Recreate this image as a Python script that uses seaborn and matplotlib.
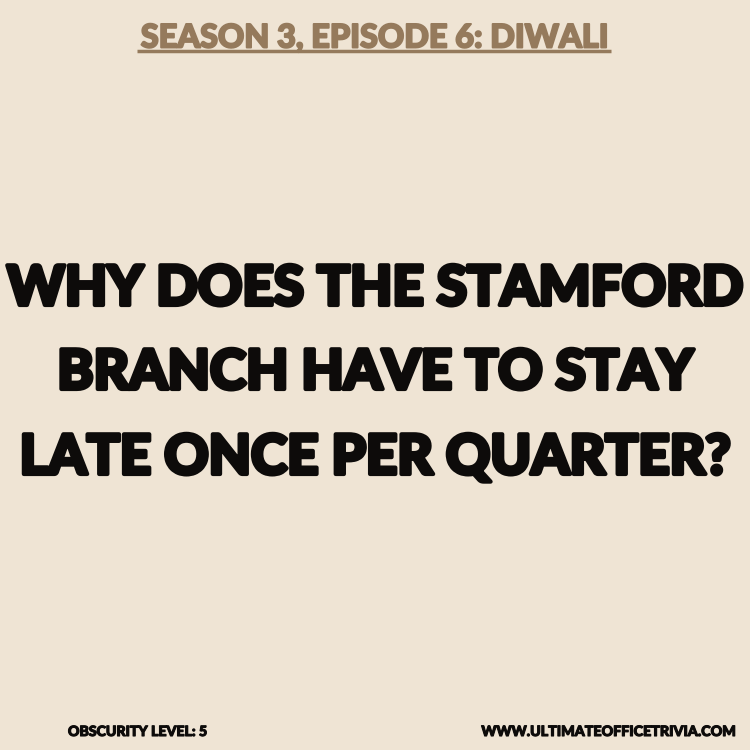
import matplotlib
matplotlib.use("Agg")
import matplotlib.pyplot as plt
import matplotlib.patheffects as pe
import seaborn as sns

title_text = "SEASON 3, EPISODE 6: DIWALI"
question_lines = ["WHY DOES THE STAMFORD", "BRANCH HAVE TO STAY", "LATE ONCE PER QUARTER?"]
footer_left = "OBSCURITY LEVEL: 5"
footer_right = "WWW.ULTIMATEOFFICETRIVIA.COM"

BG = "#efe4d4"
BROWN = "#957a5c"
BLACK = "#0d0b0a"

sns.set_theme(style="white")
plt.rcParams["font.family"] = ["Lato", "DejaVu Sans"]

fig = plt.figure(figsize=(7.5, 7.5), dpi=100, facecolor=BG)
ax = fig.add_axes([0, 0, 1, 1])
ax.set_facecolor(BG)
ax.set_xlim(0, 750)
ax.set_ylim(750, 0)
ax.axis("off")

renderer = fig.canvas.get_renderer()

def width_of(t):
    return t.get_window_extent(renderer=renderer).width

def fit(t, target_w):
    t.set_fontsize(t.get_fontsize() * target_w / width_of(t))

def bolden(t, color, lw):
    t.set_path_effects([pe.withStroke(linewidth=lw, foreground=color)])

t = ax.text(375, 38, title_text, ha="center", va="center", color=BROWN,
            fontsize=20, fontweight="black")
fit(t, 468)
bolden(t, BROWN, 1.4)
ax.plot([137, 611], [51, 51], color=BROWN, lw=2.5, solid_capstyle="butt")

ys = [289, 373, 458]
texts = [ax.text(375, y, line, ha="center", va="center", color=BLACK,
                 fontsize=40, fontweight="black")
         for line, y in zip(question_lines, ys)]
scale = 736 / max(width_of(t) for t in texts)
for t in texts:
    t.set_fontsize(40 * scale)
    bolden(t, BLACK, 3.0)

t = ax.text(68, 732, footer_left, ha="left", va="center", color=BLACK,
            fontsize=8, fontweight="black")
fit(t, 139)
bolden(t, BLACK, 0.8)
t = ax.text(737, 732, footer_right, ha="right", va="center", color=BLACK,
            fontsize=8, fontweight="black")
fit(t, 254)
bolden(t, BLACK, 0.8)

fig.savefig("out.png", dpi=100, facecolor=BG)
